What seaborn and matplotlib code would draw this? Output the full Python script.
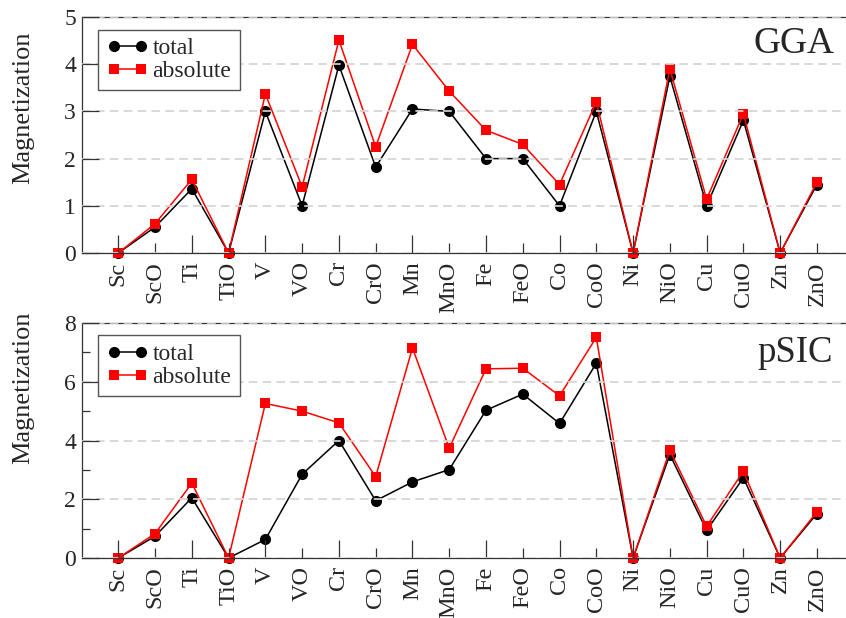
import numpy as np
import pandas as pd
import matplotlib
matplotlib.use("Agg")
import matplotlib.pyplot as plt
import seaborn as sns

# Systems on the x axis
categories = ["Sc", "ScO", "Ti", "TiO", "V", "VO", "Cr", "CrO", "Mn", "MnO",
              "Fe", "FeO", "Co", "CoO", "Ni", "NiO", "Cu", "CuO", "Zn", "ZnO"]

# GGA magnetization
gga_total = [0, 0.55, 1.36, 0, 3.0, 1.0, 3.98, 1.82, 3.05, 3.0,
             2.0, 2.0, 1.0, 3.0, 0, 3.74, 1.0, 2.81, 0, 1.45]
gga_absolute = [0, 0.62, 1.56, 0, 3.37, 1.40, 4.51, 2.25, 4.42, 3.43,
                2.6, 2.3, 1.45, 3.2, 0, 3.9, 1.14, 2.95, 0, 1.5]

# pSIC magnetization
psic_total = [0, 0.74, 2.05, 0, 0.63, 2.85, 4.0, 1.95, 2.59, 3.01,
              5.03, 5.58, 4.58, 6.63, 0, 3.52, 0.94, 2.73, 0, 1.51]
psic_absolute = [0, 0.83, 2.55, 0, 5.26, 5.0, 4.6, 2.77, 7.15, 3.74,
                 6.44, 6.46, 5.52, 7.51, 0, 3.67, 1.08, 2.95, 0, 1.57]

sns.set_style("ticks")
plt.rcParams["font.family"] = ["Liberation Serif", "DejaVu Serif"]

W, H = 846, 618
fig = plt.figure(figsize=(W / 100, H / 100), dpi=100)
left = 81.5 / W
ax_top = fig.add_axes([left, 1 - 253 / H, 1 - left, 236 / H])
ax_bot = fig.add_axes([left, 1 - 558 / H, 1 - left, 235 / H])


def draw_panel(ax, total, absolute, ymax, ystep_major, ystep_minor, name,
               name_xy, name_size, ylabel_y):
    idx = np.arange(len(categories))
    df = pd.DataFrame({"x": idx, "total": total, "absolute": absolute})
    sns.lineplot(data=df, x="x", y="total", ax=ax, color="black", marker="o",
                 markersize=8, markeredgewidth=0, linewidth=1.1,
                 clip_on=False, legend=False, zorder=2)
    sns.lineplot(data=df, x="x", y="absolute", ax=ax, color="red", marker="s",
                 markersize=6.5, markeredgewidth=0, linewidth=1.1,
                 clip_on=False, legend=False, zorder=2)
    line_total, line_abs = ax.lines[0], ax.lines[1]

    ax.set_xlim(-1.0, 19.79)
    ax.set_ylim(0, ymax)

    evens = idx[::2]
    odds = idx[1::2]
    ax.set_xticks(evens, labels=[categories[i] for i in evens])
    ax.set_xticks(odds, labels=[categories[i] for i in odds], minor=True)
    ax.set_yticks(np.arange(0, ymax + 0.01, ystep_major))
    if ystep_minor:
        ax.set_yticks(np.arange(ystep_minor, ymax, ystep_major), minor=True)

    ax.tick_params(axis="x", which="both", direction="in", labelsize=17.5,
                   labelrotation=90, pad=6, color="#333333", width=0.9)
    ax.tick_params(axis="x", which="major", length=13)
    ax.tick_params(axis="x", which="minor", length=7)
    ax.tick_params(axis="y", which="both", direction="in", labelsize=17,
                   pad=4, color="#333333", width=0.9)
    ax.tick_params(axis="y", which="major", length=12)
    ax.tick_params(axis="y", which="minor", length=6)

    # grid and ticks sit above the data lines
    ax.set_axisbelow(False)
    ax.yaxis.grid(True, which="major", color="#d4d4d4",
                  linestyle=(0, (5, 3)), linewidth=1.25)
    ax.xaxis.grid(False)

    for side in ("left", "top", "bottom"):
        ax.spines[side].set_color("#333333")
        ax.spines[side].set_linewidth(0.9)
    ax.spines["right"].set_visible(False)

    ax.set_xlabel("")
    ax.set_ylabel("Magnetization", fontsize=19)
    ax.yaxis.label.set_va("center")
    ax.yaxis.set_label_coords((23 - 81.5) / 765, ylabel_y)

    ax.text(name_xy[0], name_xy[1], name, transform=ax.transAxes,
            ha="right", va="baseline", fontsize=name_size)

    leg = ax.legend(handles=[line_total, line_abs],
                    labels=["total", "absolute"],
                    loc="upper left", bbox_to_anchor=(0.022, 0.947),
                    borderaxespad=0, frameon=True, fancybox=False,
                    edgecolor="#555555", framealpha=1, fontsize=17,
                    numpoints=2, handlelength=1.75, handletextpad=0.2,
                    borderpad=0.35, labelspacing=0.05)
    leg.get_frame().set_linewidth(1.0)


draw_panel(ax_top, gga_total, gga_absolute, 5, 1, None, "GGA",
           (0.9856, 0.847), 27, 0.6165)
draw_panel(ax_bot, psic_total, psic_absolute, 8, 2, 1, "pSIC",
           (0.983, 0.834), 26.5, 0.7234)

fig.savefig("out.png", dpi=100)
